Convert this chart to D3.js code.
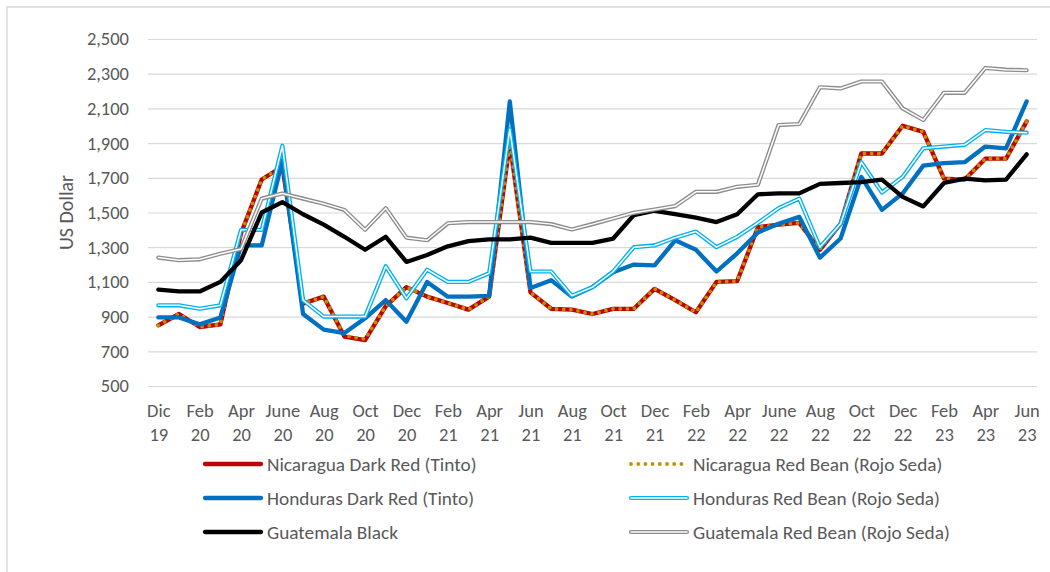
<!DOCTYPE html>
<html lang="en">
<head>
  <meta charset="UTF-8">
  <title>Bean prices, US Dollar</title>
  <style>
    body { margin: 0; padding: 0; background: #fff; }
    svg { display: block; font-family: Carlito, Lato, sans-serif; }
    .tick text { fill: #595959; font-size: 18.5px; }
    .legend text { fill: #595959; font-size: 19.3px; }
    .ytitle { fill: #595959; font-size: 20px; }
    .grid .tick line { stroke: #d9d9d9; stroke-width: 1.2; }
  </style>
</head>
<body>
  <svg id="chart" width="1050" height="572"></svg>

  <script src="https://d3js.org/d3.v7.min.js"></script>
  <script>
  // monthly series, Dec 2019 .. Jun 2023 (43 months)
  const months = ["Dec 19","Jan 20","Feb 20","Mar 20","Apr 20","May 20","Jun 20","Jul 20","Aug 20","Sep 20",
                  "Oct 20","Nov 20","Dec 20","Jan 21","Feb 21","Mar 21","Apr 21","May 21","Jun 21","Jul 21",
                  "Aug 21","Sep 21","Oct 21","Nov 21","Dec 21","Jan 22","Feb 22","Mar 22","Apr 22","May 22",
                  "Jun 22","Jul 22","Aug 22","Sep 22","Oct 22","Nov 22","Dec 22","Jan 23","Feb 23","Mar 23",
                  "Apr 23","May 23","Jun 23"];

  // axis labels shown every second month
  const tickLabels = [["Dic","19"],["Feb","20"],["Apr","20"],["June","20"],["Aug","20"],["Oct","20"],
                      ["Dec","20"],["Feb","21"],["Apr","21"],["Jun","21"],["Aug","21"],["Oct","21"],
                      ["Dec","21"],["Feb","22"],["Apr","22"],["June","22"],["Aug","22"],["Oct","22"],
                      ["Dec","22"],["Feb","23"],["Apr","23"],["Jun","23"]];

  const yTicks = [500, 700, 900, 1100, 1300, 1500, 1700, 1900, 2100, 2300, 2500];

  const nicaraguaTinto = [850,915,840,855,1380,1690,1765,975,1015,785,765,960,1070,1015,978,940,1015,1900,1040,945,
                          940,915,945,945,1060,995,925,1100,1105,1415,1430,1440,1285,1435,1840,1840,2000,1965,1695,1690,
                          1810,1810,2025];
  const nicaraguaRojo  = [850,915,840,855,1380,1690,1765,975,1015,790,770,960,1070,1015,978,940,1015,1900,1040,945,
                          940,915,945,945,1060,995,925,1100,1105,1415,1430,1440,1290,1435,1840,1840,2000,1965,1695,1690,
                          1810,1810,2025];
  const hondurasTinto  = [895,895,855,895,1310,1310,1800,915,825,805,890,995,870,1100,1015,1015,1020,2140,1065,1110,
                          1015,1070,1155,1200,1195,1340,1285,1160,1265,1385,1435,1475,1240,1350,1705,1515,1610,1770,1785,1790,
                          1880,1870,2140];
  const hondurasRojo   = [965,965,945,965,1400,1400,1885,995,900,900,900,1190,1005,1170,1100,1100,1150,1980,1160,1160,
                          1020,1070,1160,1300,1310,1355,1390,1300,1360,1440,1525,1580,1300,1435,1790,1615,1705,1870,1880,1890,
                          1975,1965,1960];
  const guatemalaBlack = [1055,1045,1045,1100,1225,1500,1560,1490,1430,1360,1285,1360,1215,1255,1305,1335,1345,1345,1355,1325,
                          1325,1325,1350,1485,1510,1490,1470,1445,1490,1605,1610,1610,1665,1670,1675,1690,1590,1535,1670,1695,
                          1685,1690,1835];
  const guatemalaRojo  = [1240,1225,1230,1262,1290,1580,1610,1580,1550,1515,1400,1525,1355,1340,1438,1445,1445,1445,1445,1433,
                          1402,1433,1465,1498,1517,1537,1619,1619,1648,1660,2004,2010,2222,2215,2255,2255,2100,2033,2190,2190,
                          2333,2323,2320];

  const series = [
    { name: "Nicaragua Dark Red (Tinto)",       values: nicaraguaTinto, style: "solid",  color: "#c00000" },
    { name: "Nicaragua Red Bean (Rojo Seda)",   values: nicaraguaRojo,  style: "dots",   color: "#bf9000" },
    { name: "Honduras Dark Red (Tinto)",        values: hondurasTinto,  style: "solid",  color: "#0070c0" },
    { name: "Honduras Red Bean (Rojo Seda)",    values: hondurasRojo,   style: "double", color: "#00b0f0" },
    { name: "Guatemala Black",                  values: guatemalaBlack, style: "solid",  color: "#000000" },
    { name: "Guatemala Red Bean (Rojo Seda)",   values: guatemalaRojo,  style: "double", color: "#8c8c8c" }
  ];

  const svg = d3.select("#chart");

  // chart frame (left and top edges are visible in the reference)
  svg.append("path")
    .attr("d", "M7,572V7H1050")
    .attr("fill", "none")
    .attr("stroke", "#d9d9d9")
    .attr("stroke-width", 1.5);

  const plot = { left: 148, right: 1037, top: 39, bottom: 386 };

  const x = d3.scalePoint()
    .domain(d3.range(months.length))
    .range([plot.left, plot.right])
    .padding(0.5);

  const y = d3.scaleLinear()
    .domain([500, 2500])
    .range([plot.bottom, plot.top]);

  // y axis + gridlines
  const yAxis = svg.append("g")
    .attr("class", "grid")
    .attr("transform", `translate(${plot.left},0)`)
    .call(d3.axisLeft(y)
      .tickValues(yTicks)
      .tickSize(-(plot.right - plot.left))
      .tickPadding(19)
      .tickFormat(d3.format(",")))
    .attr("font-family", null)
    .attr("font-size", null);
  yAxis.select(".domain").remove();

  // x axis: two-line labels every second month
  const xAxis = svg.append("g")
    .attr("transform", `translate(0,${plot.bottom})`)
    .call(d3.axisBottom(x)
      .tickValues(d3.range(0, months.length, 2))
      .tickSize(0)
      .tickFormat(""))
    .attr("font-family", null)
    .attr("font-size", null);
  xAxis.select(".domain").remove();
  xAxis.selectAll(".tick text").remove();
  xAxis.selectAll(".tick").each(function(d, i) {
    const t = d3.select(this).append("text")
      .attr("text-anchor", "middle");
    t.append("tspan").attr("x", 0).attr("y", 31).text(tickLabels[i][0]);
    t.append("tspan").attr("x", 0).attr("y", 55).text(tickLabels[i][1]);
  });

  svg.append("text")
    .attr("class", "ytitle")
    .attr("transform", `translate(73,${(plot.top + plot.bottom) / 2}) rotate(-90)`)
    .attr("text-anchor", "middle")
    .text("US Dollar");

  const line = d3.line()
    .x((d, i) => x(i))
    .y(d => y(d));

  // draws one series style on a selection, used for both the chart and the legend
  function drawStyled(g, s, d) {
    if (s.style === "solid") {
      g.append("path").attr("d", d).attr("fill", "none")
        .attr("stroke", s.color).attr("stroke-width", 4.3)
        .attr("stroke-linejoin", "round").attr("stroke-linecap", "round");
    } else if (s.style === "dots") {
      g.append("path").attr("d", d).attr("fill", "none")
        .attr("stroke", s.color).attr("stroke-width", 3.8)
        .attr("stroke-dasharray", "0 7.2")
        .attr("stroke-linejoin", "round").attr("stroke-linecap", "round");
    } else {
      g.append("path").attr("d", d).attr("fill", "none")
        .attr("stroke", s.color).attr("stroke-width", 4.2)
        .attr("stroke-linejoin", "round").attr("stroke-linecap", "round");
      g.append("path").attr("d", d).attr("fill", "none")
        .attr("stroke", "#fff").attr("stroke-width", 1.5)
        .attr("stroke-linejoin", "round").attr("stroke-linecap", "round");
    }
  }

  const linesG = svg.append("g");
  series.forEach(s => drawStyled(linesG.append("g"), s, line(s.values)));

  // legend: two columns, three rows
  const legend = svg.append("g").attr("class", "legend");
  const colX = [205, 631], rowY = [464, 498, 532];
  series.forEach((s, i) => {
    const cx = colX[i % 2], cy = rowY[Math.floor(i / 2)];
    const g = legend.append("g");
    drawStyled(g, s, `M${cx},${cy}H${cx + 56}`);
    g.append("text")
      .attr("x", cx + 62)
      .attr("y", cy)
      .attr("dy", "0.35em")
      .text(s.name);
  });
  </script>
</body>
</html>
